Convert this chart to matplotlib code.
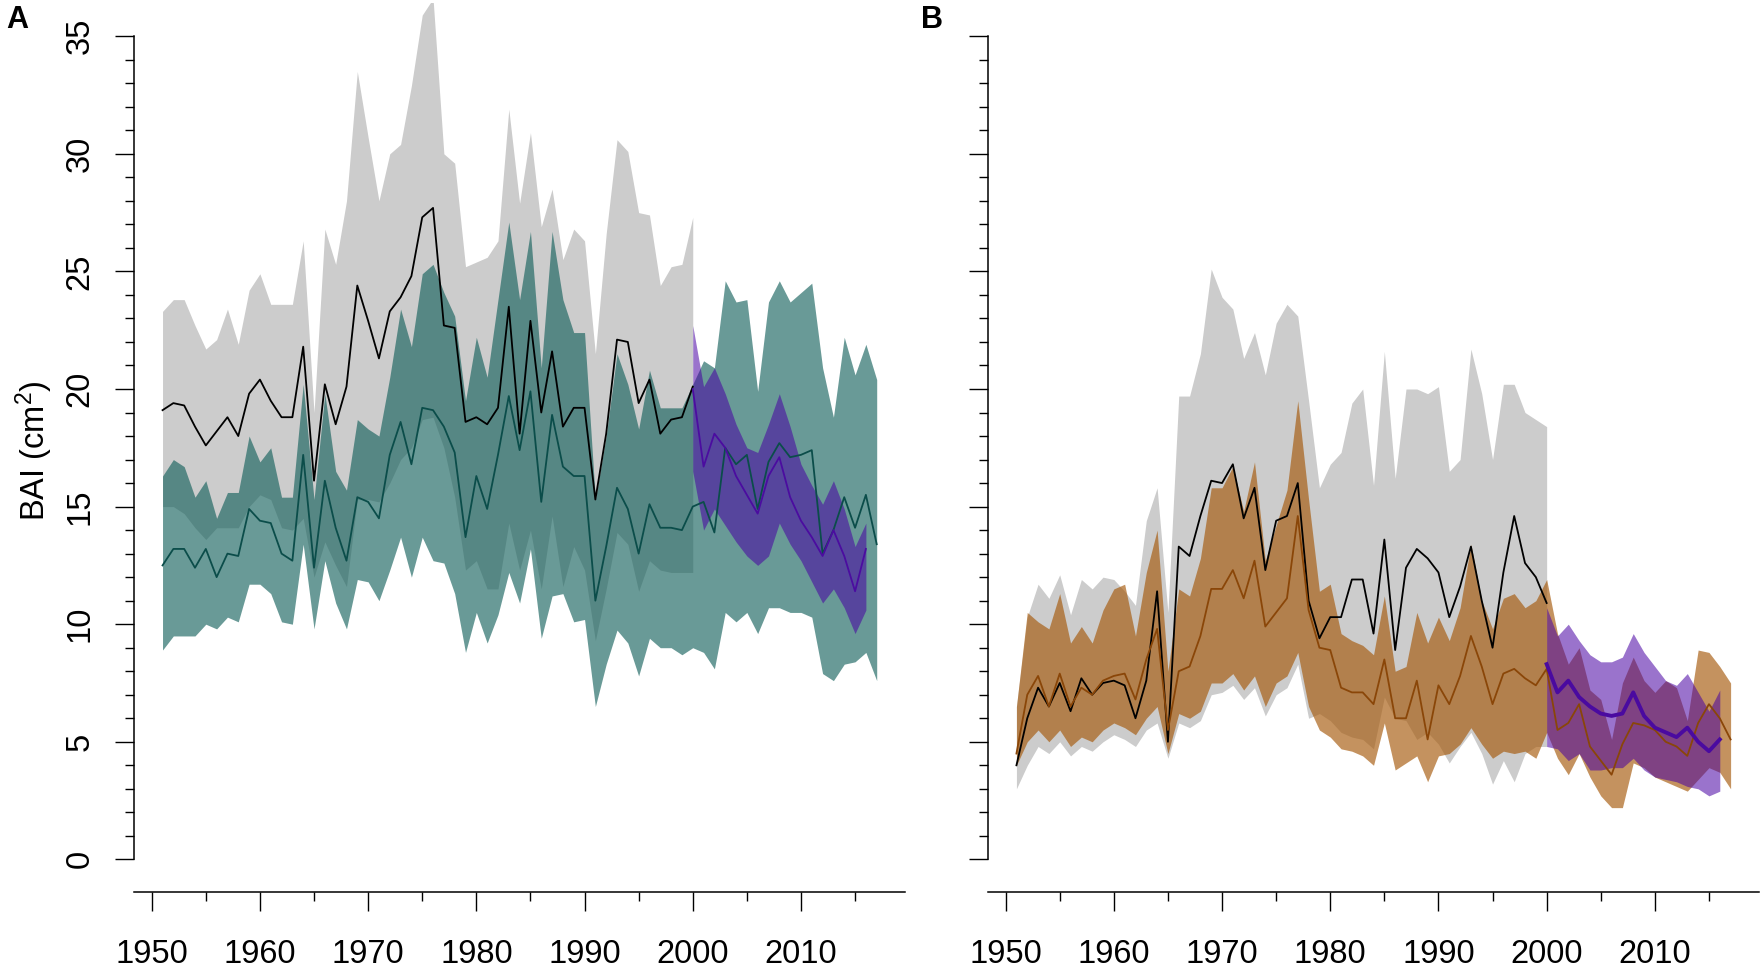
import numpy as np
import matplotlib.pyplot as plt

plt.rcParams['font.family'] = ['Liberation Sans', 'DejaVu Sans']
plt.rcParams['mathtext.default'] = 'regular'

# years
years_ref = np.arange(1951, 2001)     # gray band + black line
years_all = np.arange(1951, 2018)     # teal / brown band
years_rec = np.arange(2000, 2017)     # purple band

# ---- panel A ----
a_gray_hi = [23.3, 23.8, 23.8, 22.7, 21.7, 22.1, 23.4, 21.9, 24.2, 24.9,
             23.6, 23.6, 23.6, 26.3, 19.0, 26.8, 25.3, 28.0, 33.5, 30.7,
             28.0, 30.0, 30.4, 32.9, 35.9, 36.6, 30.0, 29.6, 25.2, 25.4,
             25.6, 26.3, 31.9, 27.9, 30.9, 26.9, 28.5, 25.5, 26.8, 26.3,
             21.5, 26.6, 30.6, 30.1, 27.5, 27.4, 24.4, 25.2, 25.3, 27.3]
a_gray_lo = [15.0, 15.0, 14.7, 14.1, 13.6, 14.1, 14.1, 14.1, 15.0, 15.5,
             15.3, 14.1, 14.0, 14.5, 12.0, 13.5, 12.5, 11.6, 15.3, 15.3,
             15.2, 16.0, 17.0, 17.5, 18.7, 18.8, 17.5, 15.4, 12.3, 12.7,
             11.5, 11.5, 14.3, 12.3, 14.0, 11.5, 14.6, 11.6, 13.3, 12.3,
             9.3, 11.5, 13.9, 13.4, 11.4, 12.7, 12.3, 12.2, 12.2, 12.2]
a_black = [19.1, 19.4, 19.3, 18.4, 17.6, 18.2, 18.8, 18.0, 19.8, 20.4,
           19.5, 18.8, 18.8, 21.8, 16.1, 20.2, 18.5, 20.1, 24.4, 22.9,
           21.3, 23.3, 23.9, 24.8, 27.3, 27.7, 22.7, 22.6, 18.6, 18.8,
           18.5, 19.2, 23.5, 18.1, 22.9, 19.0, 21.6, 18.4, 19.2, 19.2,
           15.3, 18.1, 22.1, 22.0, 19.4, 20.4, 18.1, 18.7, 18.8, 20.1]

a_teal_hi = [16.3, 17.0, 16.7, 15.4, 16.1, 14.5, 15.6, 15.6, 18.0, 16.9,
             17.5, 15.4, 15.4, 20.2, 15.3, 19.8, 16.5, 15.7, 18.7, 18.3,
             18.0, 20.5, 23.4, 21.8, 24.9, 25.3, 24.1, 23.1, 19.5, 22.2,
             20.5, 23.8, 27.1, 23.8, 26.7, 20.9, 26.7, 23.8, 22.4, 22.4,
             15.3, 18.0, 21.5, 20.2, 18.3, 20.8, 19.2, 19.2, 19.2, 20.2,
             21.2, 20.9, 24.6, 23.7, 23.8, 19.9, 23.7, 24.6, 23.7, 24.1,
             24.5, 20.9, 18.8, 22.2, 20.6, 21.9, 20.4]
a_teal_lo = [8.9, 9.5, 9.5, 9.5, 10.0, 9.8, 10.3, 10.1, 11.7, 11.7,
             11.3, 10.1, 10.0, 13.4, 9.8, 12.7, 10.9, 9.8, 11.9, 11.8,
             11.0, 12.3, 13.7, 12.0, 13.7, 12.7, 12.6, 11.3, 8.8, 10.5,
             9.2, 10.4, 12.2, 10.9, 13.2, 9.4, 11.2, 11.3, 10.1, 10.2,
             6.5, 8.3, 9.75, 9.2, 7.8, 9.4, 9.0, 9.0, 8.7, 9.0,
             8.8, 8.1, 10.5, 10.1, 10.5, 9.6, 10.7, 10.7, 10.5, 10.5,
             10.3, 7.9, 7.6, 8.3, 8.4, 8.8, 7.6]
a_teal = [12.5, 13.2, 13.2, 12.4, 13.2, 12.0, 13.0, 12.9, 14.9, 14.4,
          14.3, 13.0, 12.7, 17.2, 12.4, 16.1, 14.1, 12.7, 15.4, 15.2,
          14.5, 17.2, 18.6, 16.8, 19.2, 19.1, 18.4, 17.3, 13.7, 16.3,
          14.9, 17.2, 19.7, 17.4, 19.9, 15.2, 18.9, 16.7, 16.3, 16.3,
          11.0, 13.3, 15.8, 14.9, 13.0, 15.1, 14.1, 14.1, 14.0, 15.0,
          15.2, 13.9, 17.5, 16.8, 17.2, 14.9, 16.9, 17.7, 17.1, 17.2,
          17.4, 13.0, 14.0, 15.4, 14.1, 15.5, 13.4]

a_purp_hi = [22.7, 20.1, 20.9, 19.8, 18.5, 17.5, 17.3, 18.5, 19.8, 18.4,
             16.8, 15.9, 15.1, 16.1, 14.9, 13.3, 14.3]
a_purp_lo = [16.5, 14.0, 14.9, 14.2, 13.5, 12.9, 12.5, 12.9, 14.3, 13.4,
             12.7, 11.8, 10.9, 11.5, 10.7, 9.6, 10.6]
a_purp = [20.0, 16.7, 18.1, 17.5, 16.3, 15.5, 14.7, 16.3, 17.1, 15.4,
          14.4, 13.7, 12.9, 14.0, 12.9, 11.4, 13.2]

# ---- panel B ----
b_gray_hi = [6.5, 10.3, 11.7, 11.1, 12.1, 10.4, 11.9, 11.5, 12.0, 11.9,
             11.4, 10.8, 14.4, 15.8, 10.5, 19.7, 19.7, 21.5, 25.1, 23.9,
             23.4, 21.3, 22.4, 20.6, 22.8, 23.6, 23.1, 19.5, 15.8, 16.8,
             17.3, 19.4, 20.0, 15.9, 21.6, 16.2, 20.0, 20.0, 19.8, 20.1,
             16.5, 17.0, 21.7, 19.8, 17.0, 20.2, 20.2, 19.0, 18.7, 18.4]
b_gray_lo = [3.0, 4.0, 4.8, 4.5, 5.0, 4.4, 4.8, 4.6, 5.0, 5.3,
             5.1, 4.8, 5.5, 5.8, 4.3, 5.8, 5.6, 5.9, 7.0, 7.1,
             7.4, 6.8, 7.3, 6.1, 7.0, 7.3, 8.3, 6.0, 6.2, 5.9,
             5.4, 5.2, 5.1, 4.7, 6.9, 6.0, 5.9, 5.1, 5.4, 4.9,
             4.1, 4.8, 5.4, 4.5, 3.2, 4.2, 3.3, 4.5, 4.8, 4.8]
b_black = [4.0, 6.0, 7.3, 6.5, 7.5, 6.3, 7.7, 7.0, 7.5, 7.6,
           7.4, 6.0, 7.6, 11.4, 5.0, 13.3, 12.9, 14.6, 16.1, 16.0,
           16.8, 14.5, 15.8, 12.3, 14.4, 14.6, 16.0, 11.0, 9.4, 10.3,
           10.3, 11.9, 11.9, 9.6, 13.6, 8.9, 12.4, 13.2, 12.8, 12.2,
           10.3, 11.6, 13.3, 11.0, 9.0, 12.2, 14.6, 12.6, 12.0, 10.9]

b_brown_hi = [6.5, 10.5, 10.1, 9.8, 11.3, 9.2, 9.9, 9.2, 10.6, 11.5,
              11.7, 9.5, 12.2, 14.0, 8.0, 11.5, 11.2, 12.8, 15.8, 15.8,
              16.7, 14.8, 16.9, 12.7, 14.2, 15.7, 19.5, 15.3, 11.4, 11.7,
              9.6, 9.3, 9.1, 8.7, 11.2, 8.0, 8.2, 10.5, 9.2, 10.3,
              9.3, 10.7, 13.4, 11.0, 9.8, 11.1, 11.3, 10.7, 11.0, 11.9,
              9.6, 8.3, 9.0, 7.2, 6.8, 5.1, 7.5, 8.6, 7.6, 7.1,
              7.6, 7.3, 5.9, 8.9, 8.8, 8.2, 7.5]
b_brown_lo = [4.0, 5.0, 5.5, 5.0, 5.5, 4.8, 5.2, 5.0, 5.5, 5.8,
              5.6, 5.3, 6.0, 6.5, 4.5, 6.2, 6.0, 6.3, 7.5, 7.5,
              7.9, 7.2, 7.8, 6.5, 7.5, 7.8, 8.8, 6.5, 5.5, 5.2,
              4.7, 4.6, 4.4, 4.0, 5.8, 3.8, 4.1, 4.4, 3.3, 4.4,
              4.5, 4.9, 5.6, 4.9, 4.3, 4.6, 4.5, 4.6, 4.3, 5.4,
              4.3, 3.6, 4.5, 3.5, 2.7, 2.2, 2.2, 4.1, 3.9, 3.5,
              3.3, 3.1, 2.9, 3.4, 3.9, 3.7, 3.0]
b_brown = [4.5, 7.0, 7.8, 6.5, 7.9, 6.5, 7.3, 7.0, 7.6, 7.8,
           7.9, 6.8, 8.5, 9.8, 5.5, 8.0, 8.2, 9.5, 11.5, 11.5,
           12.3, 11.1, 12.7, 9.9, 10.5, 11.1, 14.6, 10.6, 9.0, 8.9,
           7.3, 7.1, 7.1, 6.6, 8.5, 6.0, 6.0, 7.6, 5.1, 7.4,
           6.6, 7.8, 9.5, 8.2, 6.6, 7.9, 8.1, 7.7, 7.4, 8.1,
           5.5, 5.8, 6.6, 4.8, 4.2, 3.6, 4.9, 5.8, 5.7, 5.5,
           5.0, 4.8, 4.4, 5.8, 6.6, 6.0, 5.1]

b_purp_hi = [10.7, 9.5, 10.0, 9.3, 8.7, 8.4, 8.4, 8.6, 9.6, 8.8,
             8.2, 7.6, 7.4, 7.9, 7.1, 6.3, 7.2]
b_purp_lo = [4.8, 4.7, 4.2, 4.5, 3.8, 3.8, 3.9, 3.9, 4.3, 3.8,
             3.5, 3.4, 3.3, 3.1, 3.0, 2.7, 2.9]
b_purp = [8.3, 7.1, 7.6, 6.9, 6.5, 6.2, 6.1, 6.2, 7.1, 6.1,
          5.6, 5.4, 5.2, 5.6, 5.0, 4.6, 5.1]

gray = '#cccccc'
teal = '#125f5a'
purple = '#4700a2'
brown = '#a55809'


def style_axes(ax, ylabels=True):
    ax.set_xlim(1948.36, 2019.64)
    ax.set_ylim(-1.4, 36.4)
    ax.spines['top'].set_visible(False)
    ax.spines['right'].set_visible(False)
    ax.spines['left'].set_bounds(0, 35)
    ax.spines['left'].set_linewidth(1.1)
    ax.spines['bottom'].set_linewidth(1.1)
    ax.set_xticks(range(1950, 2011, 10))
    ax.set_xticks(range(1955, 2016, 10), minor=True)
    ax.set_yticks(range(0, 36, 5))
    ax.set_yticks(range(0, 36), minor=True)
    ax.tick_params(which='major', length=13.7, width=1.0, direction='out', labelsize=23.5)
    ax.tick_params(which='minor', length=6.7, width=1.0, direction='out')
    ax.tick_params(axis='x', which='major', pad=20)
    ax.tick_params(axis='y', which='major', pad=14, labelrotation=90, labelleft=ylabels)
    for lab in ax.get_yticklabels():
        lab.set_va('center')


fig = plt.figure(figsize=(17.65, 9.68), dpi=100)
ax_a = fig.add_axes([0.0759, 0.0782, 0.4370, 0.9184])
ax_b = fig.add_axes([0.5597, 0.0782, 0.4370, 0.9184])

# panel A
ax_a.fill_between(years_ref, a_gray_lo, a_gray_hi, color=gray, lw=0)
ax_a.fill_between(years_all, a_teal_lo, a_teal_hi, color=teal, alpha=0.63, lw=0)
ax_a.fill_between(years_rec, a_purp_lo, a_purp_hi, color=purple, alpha=0.55, lw=0)
ax_a.plot(years_ref, a_black, color='black', lw=1.3)
ax_a.plot(years_all, a_teal, color='#0b4d4a', lw=1.3)
ax_a.plot(years_rec, a_purp, color='#4b0ca0', lw=1.3)
style_axes(ax_a)

# panel B
ax_b.fill_between(years_ref, b_gray_lo, b_gray_hi, color=gray, lw=0)
ax_b.fill_between(years_all, b_brown_lo, b_brown_hi, color=brown, alpha=0.65, lw=0)
ax_b.plot(years_ref, b_black, color='black', lw=1.3)
ax_b.plot(years_all, b_brown, color='#8a4608', lw=1.3)
ax_b.fill_between(years_rec, b_purp_lo, b_purp_hi, color=purple, alpha=0.55, lw=0)
ax_b.plot(years_rec, b_purp, color='#4a0aa0', lw=2.8)
style_axes(ax_b, ylabels=False)

fig.text(34 / 1765, 0.535, 'BAI (cm$^2$)', rotation=90, ha='center', va='center', fontsize=23.5)
fig.text(17 / 1765, 1 - 20 / 968, 'A', ha='center', va='center', fontsize=22, fontweight='bold')
fig.text(932 / 1765, 1 - 20 / 968, 'B', ha='center', va='center', fontsize=22, fontweight='bold')

fig.savefig('out.png', dpi=100)
